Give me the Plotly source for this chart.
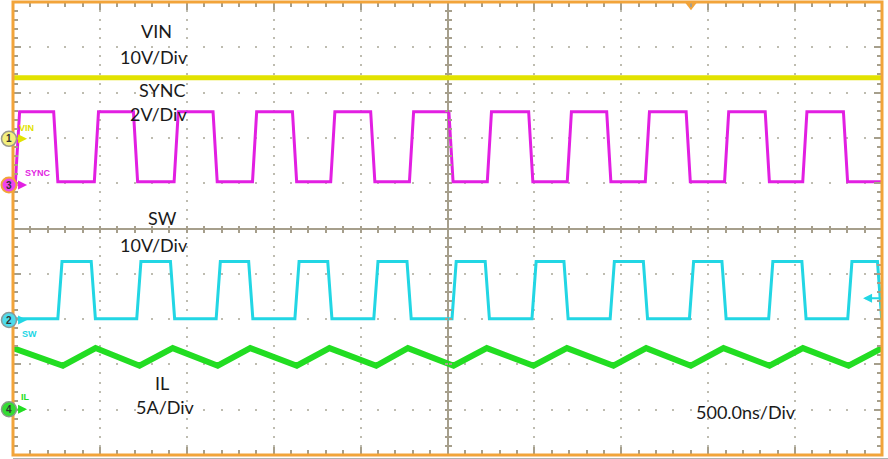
import plotly.graph_objects as go

# scope screen: 10 divisions x 500 ns, trigger at centre; vertical axis in divisions
t_left, t_right = -2500, 2500
div_lo, div_hi = -5, 5

# ch1 VIN (10V/div) - flat
vin_level = 3.33

# ch3 SYNC (2V/div) - edge times in ns
sync_rise_ns = [-2474, -2020, -1561, -1110, -660, -207, 241, 701, 1150, 1606, 2056]
sync_fall_ns = [-2254, -1795, -1337, -880, -430, 20, 479, 928, 1385, 1840, 2290]
sync_hi, sync_lo = 2.58, 1.03

# ch2 SW (10V/div)
sw_rise_ns = [-2230, -1776, -1319, -866, -412, 38, 498, 948, 1404, 1860, 2315]
sw_fall_ns = [-2038, -1582, -1132, -677, -221, 229, 682, 1139, 1591, 2051, 2486]
sw_hi, sw_lo = -0.73, -1.99

# ch4 IL (5A/div) - triangle ripple
il_valley_ns = [-2213, -1772, -1322, -867, -410, 35, 495, 955, 1400, 1853, 2308]
il_peak_ns = [-2025, -1581, -1135, -679, -228, 226, 687, 1143, 1588, 2045]
il_hi, il_lo = -2.64, -3.03

# channel ground markers on the left edge (div)
ch_names = ["1", "3", "2", "4"]
ch_offsets = [1.98, 0.96, -2.02, -3.99]
trigger_ns = 1401

EDGE_NS = 24

YELLOW = "#E2E200"
MAGENTA = "#E21FE2"
CYAN = "#22D6E4"
GREEN = "#22DD22"
ORANGE = "#F2A43A"
GRID = "#BEBCB0"
TICK = "#A69F8C"


def square_wave(rises, falls, hi, lo, start_level):
    ts, vs = [t_left], [start_level]
    level = start_level
    edges = sorted([(r, "r") for r in rises] + [(f, "f") for f in falls])
    for t, kind in edges:
        a, b = (lo, hi) if kind == "r" else (hi, lo)
        ts += [t - EDGE_NS / 2, t + EDGE_NS / 2]
        vs += [a, b]
        level = b
    ts.append(t_right)
    vs.append(level)
    return ts, vs


def triangle(valleys, peaks, hi, lo):
    knots = sorted([(t, lo) for t in valleys] + [(t, hi) for t in peaks])
    ts = [t_left] + [k[0] for k in knots] + [t_right]
    vs = [hi] + [k[1] for k in knots] + [hi]
    return ts, vs


fig = go.Figure()

fig.add_trace(go.Scatter(x=[t_left, t_right], y=[vin_level, vin_level], mode="lines",
                         line=dict(color=YELLOW, width=5), hoverinfo="skip"))
sx, sy = square_wave(sync_rise_ns, sync_fall_ns, sync_hi, sync_lo, sync_lo)
fig.add_trace(go.Scatter(x=sx, y=sy, mode="lines", line=dict(color=MAGENTA, width=3), hoverinfo="skip"))
wx, wy = square_wave(sw_rise_ns, sw_fall_ns, sw_hi, sw_lo, sw_lo)
fig.add_trace(go.Scatter(x=wx, y=wy, mode="lines", line=dict(color=CYAN, width=3), hoverinfo="skip"))
ix, iy = triangle(il_valley_ns, il_peak_ns, il_hi, il_lo)
fig.add_trace(go.Scatter(x=ix, y=iy, mode="lines", line=dict(color=GREEN, width=6), hoverinfo="skip"))

# empty traces so the centre-line tick axes get drawn
for xa, ya in [("x2", "y"), ("x3", "y"), ("x", "y2"), ("x", "y3")]:
    fig.add_trace(go.Scatter(x=[], y=[], xaxis=xa, yaxis=ya, hoverinfo="skip"))

# trigger marker
fig.add_trace(go.Scatter(x=[trigger_ns], y=[4.93], mode="markers", cliponaxis=False,
                         marker=dict(symbol="triangle-down", size=10, color=ORANGE), hoverinfo="skip"))

# screen frame first, so the channel badges sit on top of it
fig.add_shape(type="rect", xref="paper", yref="paper", x0=0, x1=1, y0=0, y1=1,
              line=dict(color=ORANGE, width=3), layer="above")
fig.add_shape(type="line", xref="paper", yref="paper", x0=0, x1=1.01, y0=-0.008, y1=-0.008,
              line=dict(color="#A8A8A8", width=1))

# channel badges (left of the screen, paper coords so they are not clipped)
badge_fill = ["#F4F07C", "#EE44EE", "#4EDCEC", "#33DD33"]
badge_line = ["#9A9A8C", ORANGE, "#8A9A9A", "#8A9A8A"]
badge_x = -4 / 869
for name, off, fc, lc in zip(ch_names, ch_offsets, badge_fill, badge_line):
    yp = (off - div_lo) / (div_hi - div_lo)
    fig.add_shape(type="circle", xref="paper", yref="paper", xsizemode="pixel", ysizemode="pixel",
                  xanchor=badge_x, yanchor=yp, x0=-7.5, x1=7.5, y0=-7.5, y1=7.5,
                  fillcolor=fc, line=dict(color=lc, width=2 if lc == ORANGE else 1.5), layer="above")
    fig.add_annotation(xref="paper", yref="paper", x=badge_x, y=yp, text="<b>" + name + "</b>",
                       xanchor="center", yanchor="middle", showarrow=False,
                       font=dict(family="Arial", size=10, color="#333"))

big = dict(family="Lato, sans-serif", size=18, color="#1a1a1a")
texts = [("VIN", -1675, 4.37), ("10V/Div", -1689, 3.78), ("SYNC", -1640, 3.06), ("2V/Div", -1663, 2.53),
         ("SW", -1640, 0.23), ("10V/Div", -1689, -0.37), ("IL", -1640, -3.40), ("5A/Div", -1623, -3.93),
         ("500.0ns/Div", 1715, -4.04)]
for txt, x, y in texts:
    fig.add_annotation(x=x, y=y, text=txt, showarrow=False, font=big)

small = [("VIN", -2425, 2.22, YELLOW), ("SYNC", -2359, 1.23, MAGENTA), ("SW", -2405, -2.33, CYAN),
         ("IL", -2430, -3.73, GREEN)]
for txt, x, y, c in small:
    fig.add_annotation(x=x, y=y, text="<b>" + txt + "</b>", showarrow=False,
                       font=dict(family="Arial", size=9, color=c))

arrow_cols = [YELLOW, MAGENTA, CYAN, GREEN]
for y, c in zip(ch_offsets, arrow_cols):
    fig.add_annotation(x=-2419, y=y, ax=-11, ay=0, text="", showarrow=True, arrowhead=2,
                       arrowsize=1, arrowwidth=1.8, arrowcolor=c)
fig.add_annotation(x=2391, y=-1.54, ax=19, ay=0, text="", showarrow=True, arrowhead=2,
                   arrowsize=1, arrowwidth=1.8, arrowcolor=CYAN)

common = dict(showticklabels=False, fixedrange=True, tickcolor=TICK, tickwidth=1.5)
fig.update_layout(
    width=888, height=459,
    margin=dict(l=13, r=6, t=2, b=4),
    paper_bgcolor="white", plot_bgcolor="white",
    showlegend=False,
    xaxis=dict(range=[t_left, t_right], zeroline=True, zerolinecolor=TICK, zerolinewidth=1.5,
               showgrid=True, gridcolor=GRID, gridwidth=2, griddash="1px,7.06px,1px,0px",
               dtick=500, tick0=0, ticks="inside", ticklen=8, mirror="ticks", showline=False,
               minor=dict(dtick=100, ticks="inside", ticklen=5, tickcolor=TICK, tickwidth=1.5, showgrid=False),
               **common),
    yaxis=dict(range=[div_lo, div_hi], zeroline=True, zerolinecolor=TICK, zerolinewidth=1.5,
               showgrid=True, gridcolor=GRID, gridwidth=2, griddash="1px,15.38px,1px,0px",
               dtick=1, tick0=0, ticks="inside", ticklen=8, mirror="ticks", showline=False,
               minor=dict(dtick=0.2, ticks="inside", ticklen=5, tickcolor=TICK, tickwidth=1.5, showgrid=False),
               **common),
    xaxis2=dict(overlaying="x", anchor="free", position=0.5, range=[t_left, t_right], showgrid=False,
                zeroline=False, dtick=100, tick0=0, ticks="outside", ticklen=3, **common),
    xaxis3=dict(overlaying="x", anchor="free", position=0.5, range=[t_left, t_right], showgrid=False,
                zeroline=False, dtick=100, tick0=0, ticks="inside", ticklen=3, **common),
    yaxis2=dict(overlaying="y", anchor="free", position=0.5, range=[div_lo, div_hi], showgrid=False,
                zeroline=False, dtick=0.2, tick0=0, ticks="outside", ticklen=3, **common),
    yaxis3=dict(overlaying="y", anchor="free", position=0.5, range=[div_lo, div_hi], showgrid=False,
                zeroline=False, dtick=0.2, tick0=0, ticks="inside", ticklen=3, **common),
)

# the page's default body margin would offset the figure; drop it
fig.write_html("out.html", config={"displayModeBar": False},
               post_script="document.body.style.margin='0';")
